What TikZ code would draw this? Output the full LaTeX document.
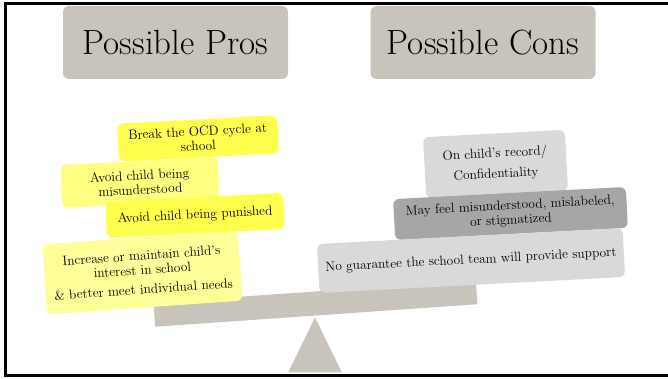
\documentclass[tikz,border=0pt]{standalone}
\usetikzlibrary{shapes.geometric}
\definecolor{titlegray}{HTML}{C8C4BC}
\definecolor{ybright}{HTML}{FFFF4D}
\definecolor{ymid}{HTML}{FFFF80}
\definecolor{ypale}{HTML}{FFFF99}
\definecolor{glight}{HTML}{D9D9D9}
\definecolor{gdark}{HTML}{A6A6A6}
\begin{document}
\begin{tikzpicture}[x=1pt,y=1pt,
  titlebox/.style={fill=titlegray, rounded corners=6pt, minimum width=225pt, minimum height=73pt, inner sep=0pt, font=\fontsize{35}{40}\selectfont},
  card/.style={rounded corners=6pt, inner sep=2pt, align=center, font=\fontsize{13.4}{14.5}\selectfont, rotate=3},
]
\useasboundingbox (0,0) rectangle (668,378);
% frame
\draw[line width=3pt] (5.5,376) -- (5.5,1.5);
\draw[line width=3pt] (4,374.5) -- (668,374.5);
\draw[line width=3pt] (4,3) -- (668,3);
% titles
\node[titlebox] (pros) at (175.5,335.5) {Possible Pros};
\node[titlebox] (cons) at (483,335.5) {Possible Cons};
% fulcrum and beam
\node[fill=titlegray, draw=none, isosceles triangle, isosceles triangle apex angle=52, shape border rotate=90, minimum height=55pt, inner sep=0pt, anchor=apex] (fulcrum) at (315,61) {};
\node[fill=titlegray, minimum width=323pt, minimum height=24pt, inner sep=0pt, rotate=4] (beam) at (315.5,74.5) {};
% pros cards
\node[card, fill=ybright, minimum width=160pt, minimum height=38pt] (p1) at (198,239.5) {Break the OCD cycle at\\school};
\node[card, fill=ymid, minimum width=157pt, minimum height=43pt] (p2) at (140,195.5) {Avoid child being\\misunderstood};
\node[card, fill=ybright, minimum width=178pt, minimum height=36pt] (p3) at (195,162.5) {Avoid child being punished};
\node[card, fill=ypale, minimum width=196pt, minimum height=70pt, rotate=1] (p4) at (142.5,105.5) {Increase or maintain child's\\interest in school\\[5pt]\& better meet individual needs};
% cons cards
\node[card, fill=glight, minimum width=142pt, minimum height=61pt] (c1) at (495.5,214) {On child's record/\\[6pt]Confidentiality};
\node[card, fill=gdark, minimum width=233pt, minimum height=41pt] (c2) at (510.5,164.5) {May feel misunderstood, mislabeled,\\or stigmatized};
\node[card, fill=glight, minimum width=306pt, minimum height=49pt] (c3) at (471,117.5) {No guarantee the school team will provide support};
\end{tikzpicture}
\end{document}
